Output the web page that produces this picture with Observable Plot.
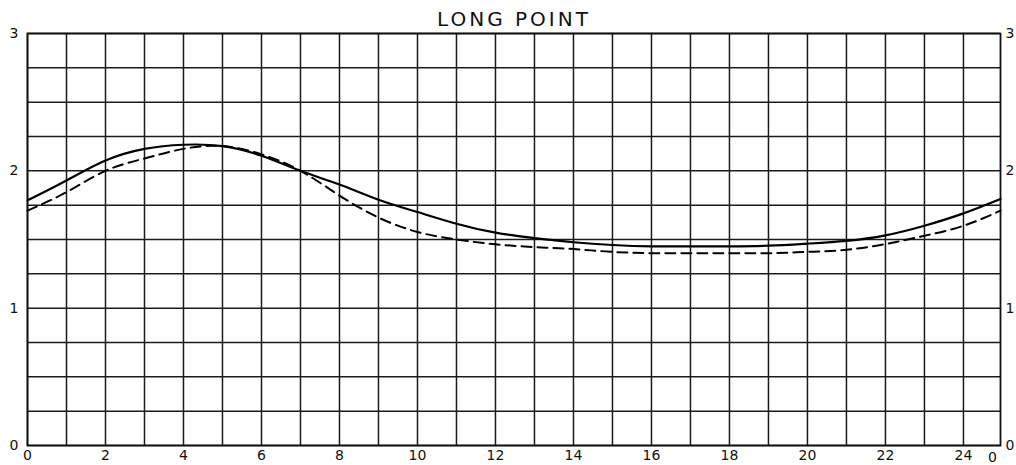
<!DOCTYPE html>
<html>
<head>
<meta charset="utf-8">
<script src="https://cdn.jsdelivr.net/npm/d3@7"></script>
<script src="https://cdn.jsdelivr.net/npm/@observablehq/plot@0.6"></script>
<style>
  html, body { margin: 0; padding: 0; background: #fff; }
  svg { font-family: "DejaVu Sans", sans-serif; }
</style>
</head>
<body>
<div id="chart"></div>
<script>
const title = "LONG POINT";
const hours = [0,1,2,3,4,5,6,7,8,9,10,11,12,13,14,15,16,17,18,19,20,21,22,23,24,24.95];
const solidValues = [1.785,1.93,2.075,2.16,2.19,2.18,2.11,2.0,1.90,1.79,1.70,1.615,1.55,1.51,1.48,1.46,1.45,1.45,1.45,1.455,1.47,1.49,1.53,1.60,1.69,1.795];
const dashedValues = [1.71,1.845,2.0,2.09,2.16,2.18,2.12,2.0,1.82,1.66,1.555,1.50,1.465,1.445,1.43,1.41,1.40,1.40,1.40,1.40,1.41,1.425,1.467,1.527,1.60,1.71];
const xGrid = d3.range(0, 25, 1);
const yGrid = d3.range(0, 3.001, 0.25);
const xTickLabels = [0,2,4,6,8,10,12,14,16,18,20,22,24];
const xEdgeLabel = [{x: 24.95, label: "0"}];
const yTickLabels = [0,1,2,3];
const xMax = 24.95;

const solid = hours.map((h, i) => ({h, v: solidValues[i]}));
const dashed = hours.map((h, i) => ({h, v: dashedValues[i]}));

const plot = Plot.plot({
  width: 1016,
  height: 465,
  marginLeft: 27,
  marginRight: 16,
  marginTop: 33,
  marginBottom: 20,
  style: {fontFamily: "DejaVu Sans, sans-serif", background: "#fff", color: "#111"},
  x: {domain: [0, xMax], axis: null},
  y: {domain: [0, 3], axis: null},
  marks: [
    Plot.ruleX(xGrid, {stroke: "#1a1a1a", strokeWidth: 1.5}),
    Plot.ruleY(yGrid, {stroke: "#1a1a1a", strokeWidth: 1.5}),
    Plot.frame({stroke: "#111", strokeWidth: 1.8}),
    Plot.line(solid, {x: "h", y: "v", curve: "natural", stroke: "#000", strokeWidth: 2.2}),
    Plot.line(dashed, {x: "h", y: "v", curve: "natural", stroke: "#000", strokeWidth: 2, strokeDasharray: "10,6"}),
    Plot.axisX(xTickLabels, {tickSize: 0, tickPadding: 5, fontSize: 14, anchor: "bottom", label: null, tickFormat: "d"}),
    Plot.text(xEdgeLabel, {x: "x", y: 0, text: "label", dy: 12, dx: -8, fontSize: 14, lineAnchor: "middle"}),
    Plot.axisY(yTickLabels, {anchor: "left", tickSize: 0, tickPadding: 9, fontSize: 14, label: null, tickFormat: "d"}),
    Plot.axisY(yTickLabels, {anchor: "right", tickSize: 0, tickPadding: 5, fontSize: 14, label: null, tickFormat: "d"}),
    Plot.text([title], {frameAnchor: "top", dy: -8, lineAnchor: "bottom", fontSize: 20, text: d => d})
  ]
});
document.getElementById("chart").appendChild(plot);
d3.select(plot).selectAll("text").filter(function() { return this.textContent === title; })
  .attr("letter-spacing", "3");
</script>
</body>
</html>
